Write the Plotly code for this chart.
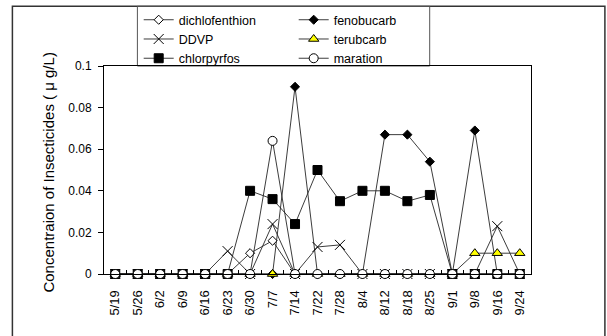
import plotly.graph_objects as go

dates = ["5/19", "5/26", "6/2", "6/9", "6/16", "6/23", "6/30", "7/7", "7/14", "7/22",
         "7/28", "8/4", "8/12", "8/18", "8/25", "9/1", "9/8", "9/16", "9/24"]

dichlofenthion = [0, 0, 0, 0, 0, 0, 0.010, 0.016, 0, 0, 0, 0, 0, 0, 0, 0, 0, 0, 0]
fenobucarb = [0, 0, 0, 0, 0, 0, 0, 0, 0.090, 0, 0, 0, 0.067, 0.067, 0.054, 0, 0.069, 0, 0]
ddvp = [0, 0, 0, 0, 0, 0.011, 0, 0.024, 0, 0.013, 0.014, 0, 0, 0, 0, 0, 0, 0.023, 0]
terubcarb = [0, 0, 0, 0, 0, 0, 0, 0, 0, 0, 0, 0, 0, 0, 0, 0, 0.010, 0.010, 0.010]
chlorpyrfos = [0, 0, 0, 0, 0, 0, 0.040, 0.036, 0.024, 0.050, 0.035, 0.040, 0.040, 0.035, 0.038,
               0, 0, 0, 0]
maration = [0, 0, 0, 0, 0, 0, 0, 0.064, 0, 0, 0, 0, 0, 0, 0, 0, 0, 0, 0]

y_ticks = [0, 0.02, 0.04, 0.06, 0.08, 0.1]
y_title = "Concentraion of Insecticides ( \u03bc g/L)"

W, H = 607, 336
L, R, T, B = 104.3, 531.3, 66.3, 274.0
pw, ph = R - L, B - T


def px(x):
    return (x - L) / pw


def py(y):
    return (B - y) / ph


FONT = "Liberation Sans, Arial, sans-serif"
LINE = dict(color="#262626", width=0.9)

series = [
    ("dichlofenthion", dichlofenthion, dict(symbol="diamond", size=7, color="white",
                                             line=dict(color="black", width=1)), "legend"),
    ("fenobucarb", fenobucarb, dict(symbol="diamond", size=7, color="black",
                                     line=dict(color="black", width=1)), "legend2"),
    ("DDVP", ddvp, dict(symbol="x-thin", size=10, color="black",
                         line=dict(color="black", width=1)), "legend"),
    ("terubcarb", terubcarb, dict(symbol="triangle-up", size=9, color="#FFFF00",
                                   line=dict(color="black", width=1)), "legend2"),
    ("chlorpyrfos", chlorpyrfos, dict(symbol="square", size=9, color="black",
                                       line=dict(color="black", width=1)), "legend"),
    ("maration", maration, dict(symbol="circle", size=9, color="white",
                                 line=dict(color="black", width=1)), "legend2"),
]

fig = go.Figure()
for name, vals, mk, lg in series:
    fig.add_trace(go.Scatter(x=dates, y=vals, name=name, mode="lines+markers",
                             line=LINE, marker=mk, legend=lg, cliponaxis=False))

legend_common = dict(bgcolor="rgba(0,0,0,0)", borderwidth=0, orientation="v",
                     xanchor="left", yanchor="top", itemwidth=30,
                     font=dict(family=FONT, size=12.5, color="black"),
                     traceorder="normal")

fig.update_layout(
    width=W, height=H,
    margin=dict(l=L, r=W - R, t=T, b=H - B, autoexpand=False),
    paper_bgcolor="white", plot_bgcolor="white",
    font=dict(family=FONT, size=12, color="black"),
    legend=dict(x=px(139), y=py(5.5), **legend_common),
    legend2=dict(x=px(294), y=py(5.5), **legend_common),
    xaxis=dict(type="category", range=[-0.5, len(dates) - 0.5],
               showline=True, linecolor="black", linewidth=1, mirror=True,
               ticks="inside", tickson="boundaries", ticklen=4, tickcolor="black",
               tickangle=-90, tickfont=dict(family=FONT, size=13, color="black"),
               ticklabelstandoff=10, showgrid=False, zeroline=False),
    yaxis=dict(range=[0, 0.1], tickvals=y_ticks,
               showline=True, linecolor="black", linewidth=1, mirror=True,
               ticks="outside", ticklen=5, tickcolor="black",
               tickfont=dict(family=FONT, size=12, color="black"),
               ticklabelstandoff=4, showgrid=False, zeroline=False),
    showlegend=True,
    shapes=[
        dict(type="rect", xref="paper", yref="paper", x0=px(12.7), x1=px(605.2),
             y0=py(337), y1=py(6.7), line=dict(color="#333333", width=1.5),
             fillcolor="rgba(0,0,0,0)", layer="below"),
        dict(type="rect", xref="paper", yref="paper", x0=px(137.7), x1=px(430),
             y0=py(66.3), y1=py(6.7), line=dict(color="#555555", width=1),
             fillcolor="rgba(0,0,0,0)", layer="below"),
    ],
    annotations=[
        dict(text=y_title, xref="paper", yref="paper", x=px(49), y=py(173),
             textangle=-90, showarrow=False, xanchor="center", yanchor="middle",
             font=dict(family=FONT, size=15, color="black")),
    ],
)

fig.write_html("out.html")
